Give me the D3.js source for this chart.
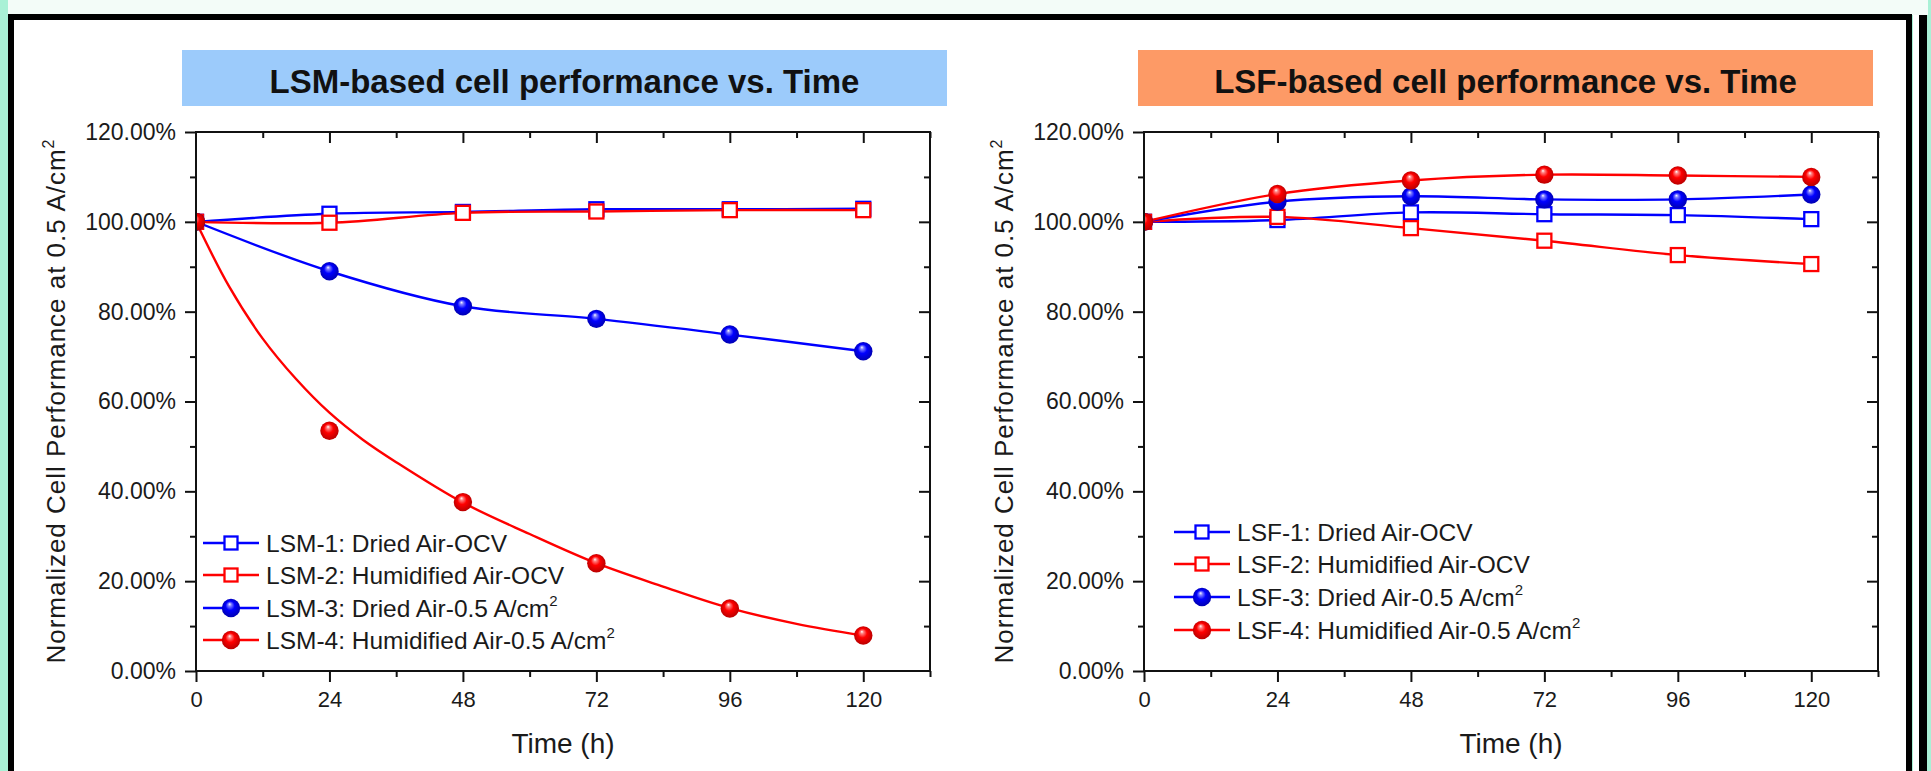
<!DOCTYPE html>
<html>
<head>
<meta charset="utf-8">
<script src="https://cdn.jsdelivr.net/npm/d3@7"></script>
<style>
  html, body { margin: 0; padding: 0; background: #a9f1d6; }
  svg { display: block; font-family: "Liberation Sans", Arial, sans-serif; }
</style>
</head>
<body>
<div id="chart"></div>
<script>
(function () {

  // canvas
  var w = 1931;
  var h = 771;

  // data (hours, normalized performance in %)
  var hours = [0, 24, 48, 72, 96, 120];

  var lsm1 = [100, 101.8, 102.2, 102.8, 102.8, 102.9];
  var lsm2 = [100, 99.8, 102.0, 102.3, 102.6, 102.6];
  var lsm3 = [100, 89.0, 81.2, 78.4, 74.9, 71.2];
  var lsm4 = [100, 53.5, 37.6, 24.0, 13.9, 7.9];

  // the LSM-4 line is a fitted curve, it does not go through the 24 h point
  var lsm4FitHours  = [0, 6, 12, 18, 24, 30, 36, 48, 60, 72, 84, 96, 108, 120];
  var lsm4FitValues = [100, 85.5, 74, 65, 57.5, 51.5, 46.5, 37.5, 30.5, 24, 18.8, 14, 10.5, 7.9];

  var lsf1 = [100, 100.4, 102.1, 101.7, 101.5, 100.6];
  var lsf2 = [100, 101.1, 98.6, 95.8, 92.6, 90.6];
  var lsf3 = [100, 104.5, 105.7, 105.0, 105.0, 106.1];
  var lsf4 = [100, 106.2, 109.2, 110.5, 110.3, 110.0];

  var lsmLabels = ["LSM-1: Dried Air-OCV", "LSM-2: Humidified Air-OCV", "LSM-3: Dried Air-0.5 A/cm", "LSM-4: Humidified Air-0.5 A/cm"];
  var lsfLabels = ["LSF-1: Dried Air-OCV", "LSF-2: Humidified Air-OCV", "LSF-3: Dried Air-0.5 A/cm", "LSF-4: Humidified Air-0.5 A/cm"];

  var xMajor = [0, 24, 48, 72, 96, 120];
  var xMinor = [12, 36, 60, 84, 108, 132];
  var yMajor = [0, 20, 40, 60, 80, 100, 120];
  var yMinor = [10, 30, 50, 70, 90, 110];

  var BLUE = "#0000ff";
  var RED = "#ff0000";

  var plotW = 734;
  var plotTop = 132;
  var plotBottom = 671;

  function zip(xs, ys) {
    return xs.map(function (d, i) { return [d, ys[i]]; });
  }

  function makeSeries(vals, labels) {
    return [
      { pts: zip(hours, vals[0]), color: BLUE, marker: "square", label: labels[0], sup: false },
      { pts: zip(hours, vals[1]), color: RED, marker: "square", label: labels[1], sup: false },
      { pts: zip(hours, vals[2]), color: BLUE, marker: "circle", label: labels[2], sup: true },
      { pts: zip(hours, vals[3]), color: RED, marker: "circle", label: labels[3], sup: true }
    ];
  }

  var lsmSeries = makeSeries([lsm1, lsm2, lsm3, lsm4], lsmLabels);
  lsmSeries[3].line = zip(lsm4FitHours, lsm4FitValues);
  var lsfSeries = makeSeries([lsf1, lsf2, lsf3, lsf4], lsfLabels);

  var panels = [
    { id: "lsm", x0: 196, title: "LSM-based cell performance vs. Time", boxX: 182, boxW: 765, boxFill: "#9ccbfb",
      legendX: 203, legendY: [543, 575, 608, 640], series: lsmSeries },
    { id: "lsf", x0: 1144, title: "LSF-based cell performance vs. Time", boxX: 1138, boxW: 735, boxFill: "#fd9a66",
      legendX: 1174, legendY: [532, 564, 597, 630], series: lsfSeries }
  ];

  var svg = d3.select("#chart")
    .append("svg")
    .attr("width", w)
    .attr("height", h);

  // shaded ball markers
  var defs = svg.append("defs");
  [["ballBlue", "#8080ff", BLUE, "#0000a8"], ["ballRed", "#ff8080", RED, "#b00000"]].forEach(function (g) {
    var grad = defs.append("radialGradient")
      .attr("id", g[0])
      .attr("cx", "50%").attr("cy", "50%").attr("r", "55%")
      .attr("fx", "42%").attr("fy", "28%");
    grad.append("stop").attr("offset", "0%").attr("stop-color", "#ffffff");
    grad.append("stop").attr("offset", "16%").attr("stop-color", g[1]);
    grad.append("stop").attr("offset", "45%").attr("stop-color", g[2]);
    grad.append("stop").attr("offset", "100%").attr("stop-color", g[3]);
  });

  // slide background + frame
  svg.append("rect").attr("x", 8).attr("y", 0).attr("width", 1920).attr("height", 15).attr("fill", "#f3fcf8");
  svg.append("rect")
    .attr("x", 11).attr("y", 17)
    .attr("width", 1898).attr("height", 762)
    .attr("fill", "#ffffff")
    .attr("stroke", "#000")
    .attr("stroke-width", 6);
  svg.append("rect").attr("x", 1913).attr("y", 15).attr("width", 6).attr("height", 756).attr("fill", "#ffffff");
  svg.append("rect").attr("x", 1919).attr("y", 15).attr("width", 8).attr("height", 756).attr("fill", "#000");

  function drawMarker(sel, type, color, size) {
    if (type === "square") {
      sel.append("rect")
        .attr("x", -size / 2).attr("y", -size / 2)
        .attr("width", size).attr("height", size)
        .attr("fill", "#fff")
        .attr("stroke", color)
        .attr("stroke-width", 2.3);
    } else {
      sel.append("circle")
        .attr("r", size / 2 + 2.2)
        .attr("fill", color === BLUE ? "url(#ballBlue)" : "url(#ballRed)");
    }
  }

  panels.forEach(function (p) {

    var x = d3.scaleLinear().domain([0, 132]).range([p.x0, p.x0 + plotW]);
    var y = d3.scaleLinear().domain([0, 120]).range([plotBottom, plotTop]);

    // title banner
    svg.append("rect")
      .attr("x", p.boxX).attr("y", 50)
      .attr("width", p.boxW).attr("height", 56)
      .attr("fill", p.boxFill);
    svg.append("text")
      .attr("x", p.boxX + p.boxW / 2)
      .attr("y", 93)
      .attr("text-anchor", "middle")
      .style("font-size", "33px")
      .style("font-weight", "bold")
      .style("fill", "#111")
      .text(p.title);

    var clipId = "clip-" + p.id;
    defs.append("clipPath").attr("id", clipId)
      .append("rect")
      .attr("x", p.x0).attr("y", plotTop)
      .attr("width", plotW).attr("height", plotBottom - plotTop);

    var g = svg.append("g").attr("clip-path", "url(#" + clipId + ")");

    var line = d3.line()
      .x(function (d) { return x(d[0]); })
      .y(function (d) { return y(d[1]); })
      .curve(d3.curveCatmullRom.alpha(0.5));

    p.series.forEach(function (s) {
      g.append("path")
        .attr("d", line(s.line || s.pts))
        .attr("fill", "none")
        .attr("stroke", s.color)
        .attr("stroke-width", 2.4);
    });

    p.series.forEach(function (s) {
      g.selectAll(null)
        .data(s.pts)
        .enter()
        .append("g")
        .attr("transform", function (d) { return "translate(" + x(d[0]) + "," + y(d[1]) + ")"; })
        .each(function () { drawMarker(d3.select(this), s.marker, s.color, 14); });
    });

    // axes
    function styleAxis(sel) {
      sel.select(".domain").remove();
      sel.selectAll("line").attr("stroke", "#111").attr("stroke-width", 2);
      sel.selectAll("text").style("font-size", "22px").style("fill", "#1a1a1a").style("font-family", "'Liberation Sans', Arial, sans-serif");
    }

    svg.append("g")
      .attr("transform", "translate(0," + plotBottom + ")")
      .call(d3.axisBottom(x).tickValues(xMajor).tickSize(11).tickPadding(9).tickFormat(d3.format("d")))
      .call(styleAxis);
    svg.append("g")
      .attr("transform", "translate(0," + plotBottom + ")")
      .call(d3.axisBottom(x).tickValues(xMinor).tickSize(6).tickFormat(""))
      .call(styleAxis);
    svg.append("g")
      .attr("transform", "translate(0," + plotTop + ")")
      .call(d3.axisTop(x).tickValues(xMajor.slice(1)).tickSize(-11).tickFormat(""))
      .call(styleAxis);
    svg.append("g")
      .attr("transform", "translate(0," + plotTop + ")")
      .call(d3.axisTop(x).tickValues(xMinor).tickSize(-6).tickFormat(""))
      .call(styleAxis);

    svg.append("g")
      .attr("transform", "translate(" + p.x0 + ",0)")
      .call(d3.axisLeft(y).tickValues(yMajor).tickSize(11).tickPadding(9).tickFormat(function (d) { return d.toFixed(2) + "%"; }))
      .call(styleAxis)
      .selectAll("text").style("font-size", "23px");
    svg.append("g")
      .attr("transform", "translate(" + p.x0 + ",0)")
      .call(d3.axisLeft(y).tickValues(yMinor).tickSize(6).tickFormat(""))
      .call(styleAxis);
    svg.append("g")
      .attr("transform", "translate(" + (p.x0 + plotW) + ",0)")
      .call(d3.axisRight(y).tickValues(yMajor.slice(1, -1)).tickSize(-11).tickFormat(""))
      .call(styleAxis);
    svg.append("g")
      .attr("transform", "translate(" + (p.x0 + plotW) + ",0)")
      .call(d3.axisRight(y).tickValues(yMinor).tickSize(-6).tickFormat(""))
      .call(styleAxis);

    svg.append("rect")
      .attr("x", p.x0).attr("y", plotTop)
      .attr("width", plotW).attr("height", plotBottom - plotTop)
      .attr("fill", "none")
      .attr("stroke", "#111")
      .attr("stroke-width", 2);

    // axis titles
    svg.append("text")
      .attr("x", p.x0 + plotW / 2)
      .attr("y", 753)
      .attr("text-anchor", "middle")
      .style("font-size", "28px")
      .style("fill", "#1a1a1a")
      .text("Time (h)");

    var yt = svg.append("text")
      .attr("transform", "translate(" + (p.x0 - 131) + "," + ((plotTop + plotBottom) / 2) + ") rotate(-90)")
      .attr("text-anchor", "middle")
      .attr("textLength", 524)
      .attr("lengthAdjust", "spacing")
      .style("font-size", "26px")
      .style("fill", "#1a1a1a");
    yt.append("tspan").text("Normalized Cell Performance at 0.5 A/cm");
    yt.append("tspan").attr("dy", -11).style("font-size", "16px").text("2");

    // legend
    p.series.forEach(function (s, i) {
      var ly = p.legendY[i];
      var lg = svg.append("g").attr("transform", "translate(" + p.legendX + "," + ly + ")");
      lg.append("line")
        .attr("x1", 0).attr("x2", 56)
        .attr("stroke", s.color)
        .attr("stroke-width", 2.4);
      var m = lg.append("g").attr("transform", "translate(28,0)");
      drawMarker(m, s.marker, s.color, s.marker === "square" ? 13 : 14);
      var t = lg.append("text")
        .attr("x", 63)
        .attr("y", 9)
        .style("font-size", "24.5px")
        .style("fill", "#1a1a1a")
        .text(s.label);
      if (s.sup) {
        t.append("tspan").attr("dy", -11).style("font-size", "15px").text("2");
      }
    });
  });

})();
</script>
</body>
</html>
